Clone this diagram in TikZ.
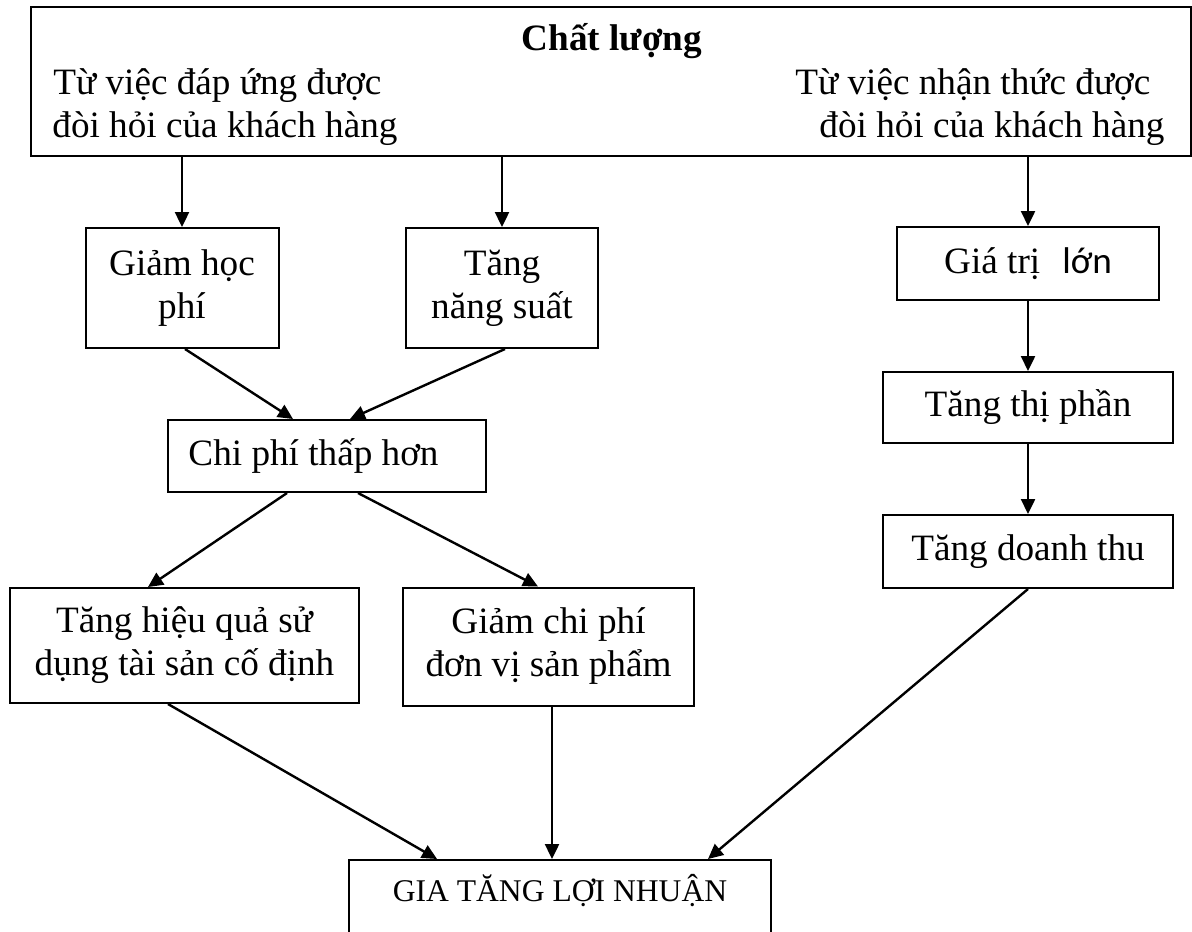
\documentclass[tikz,border=0pt]{standalone}
\usepackage{fontspec}
\setmainfont{Liberation Serif}
\newfontfamily\carlitofont{Carlito}
\usetikzlibrary{arrows.meta, calc, math}

\begin{document}
\begin{tikzpicture}[x=0.5pt, y=-0.5pt,
box/.style={draw, line width=1pt, inner sep=0pt, align=center, font=\fontsize{18.6pt}{21.5pt}\selectfont},
txt/.style={inner sep=0pt, font=\fontsize{18.6pt}{21pt}\selectfont},
arr/.style={line width=1.2pt, -{Triangle[length=7.5pt, width=7pt]}}]
\tikzmath{
\xl = 182;
\xm = 502;
\xr = 1028;
}
\useasboundingbox (0,0) rectangle (1192,931);
\clip (0,0) rectangle (1192,931);

\node[box, minimum width=580pt, minimum height=74.5pt] (top) at (611,81.5) {};
\node[txt, anchor=base, font=\fontsize{18.6pt}{21pt}\selectfont\bfseries] (chatluong) at (612,51) {Chất lượng};
\node[txt, anchor=base west] (dapung1) at (53,95) {Từ việc đáp ứng được};
\node[txt, anchor=base west] (dapung2) at (52,137) {đòi hỏi của khách hàng};
\node[txt, anchor=base west] (nhanthuc1) at (795,95) {Từ việc nhận thức được};
\node[txt, anchor=base west] (nhanthuc2) at (819,137) {đòi hỏi của khách hàng};

\node[box, minimum width=96.5pt, minimum height=60pt] (hocphi) at (\xl,288) {Giảm học\\phí};
\node[box, minimum width=96pt, minimum height=60pt] (nangsuat) at (\xm,288) {Tăng\\năng suất};
\node[box, minimum width=159pt, minimum height=36pt] (chiphi) at (327,456) {Chi phí thấp hơn\hbox to 13.5pt{}};
\node[box, minimum width=174.5pt, minimum height=57.5pt] (hieuqua) at (184.5,645.5) {Tăng hiệu quả sử\\dụng tài sản cố định};
\node[box, minimum width=145.5pt, minimum height=59pt] (donvi) at (548.5,646.5) {Giảm chi phí\\đơn vị sản phẩm};

\node[box, minimum width=131pt, minimum height=36.5pt] (giatri) at (\xr,263.5) {Giá trị\hspace{11pt}{\carlitofont lớn}};
\node[box, minimum width=145pt, minimum height=35.5pt] (thiphan) at (\xr,407.5) {Tăng thị phần};
\node[box, minimum width=145pt, minimum height=36.5pt] (doanhthu) at (\xr,551.5) {Tăng doanh thu};

\node[box, anchor=north, minimum width=211pt, text height=13pt, text depth=40pt, inner ysep=7.5pt, font=\fontsize{15.8pt}{19pt}\selectfont] (loinhuan) at (560,859) {GIA TĂNG LỢI NHUẬN};

\draw[arr] (top.south -| hocphi.north) -- (hocphi.north);
\draw[arr] (top.south -| nangsuat.north) -- (nangsuat.north);
\draw[arr] (top.south -| giatri.north) -- (giatri.north);
\draw[arr] (giatri) -- (thiphan);
\draw[arr] (thiphan) -- (doanhthu);

\draw[arr] ($(hocphi.south)+(3,0)$) -- ($(chiphi.north)+(-34,0)$);
\draw[arr] ($(nangsuat.south)+(3,0)$) -- ($(chiphi.north)+(23,0)$);
\draw[arr] ($(chiphi.south)+(-40,0)$) -- ($(hieuqua.north)+(-36.5,0)$);
\draw[arr] ($(chiphi.south)+(31,0)$) -- ($(donvi.north)+(-10.5,0)$);

\draw[arr] ($(hieuqua.south)+(-16.5,0)$) -- ($(loinhuan.north)+(-123,0)$);
\draw[arr] ($(donvi.south)+(3.5,0)$) -- ($(loinhuan.north)+(-8,0)$);
\draw[arr] (doanhthu.south) -- ($(loinhuan.north)+(148,0)$);

\end{tikzpicture}
\end{document}
